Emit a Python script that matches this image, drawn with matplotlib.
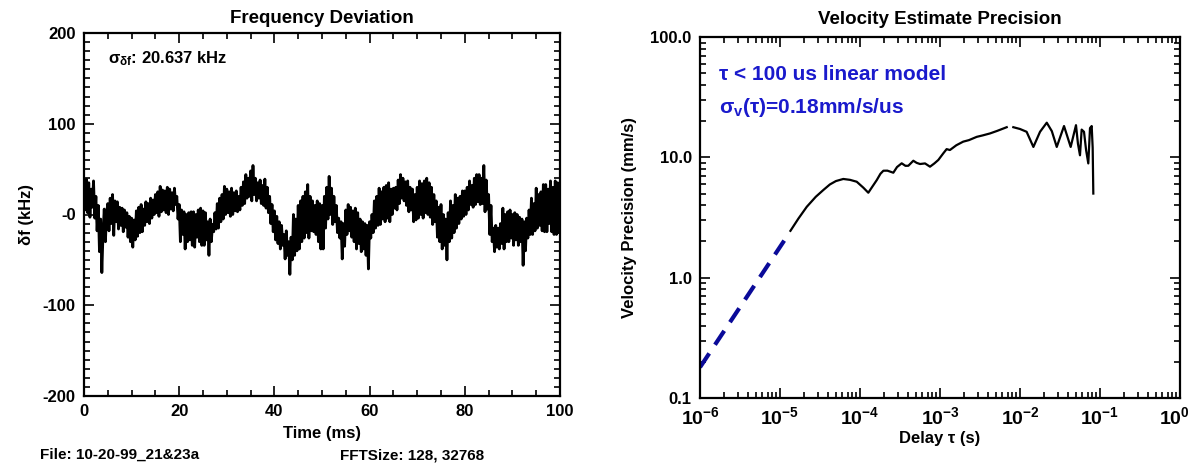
import numpy as np
import matplotlib
matplotlib.use("Agg")
import matplotlib.pyplot as plt
from matplotlib.ticker import MultipleLocator, LogLocator, NullFormatter
from matplotlib.transforms import ScaledTranslation

plt.rcParams['font.family'] = ['Liberation Sans', 'DejaVu Sans']
plt.rcParams['font.weight'] = 'bold'
plt.rcParams['mathtext.fontset'] = 'custom'
plt.rcParams['mathtext.rm'] = 'Liberation Sans:bold'
plt.rcParams['mathtext.bf'] = 'Liberation Sans:bold'
plt.rcParams['mathtext.it'] = 'Liberation Sans:bold'

# frequency deviation trace (kHz), sampled every 0.25 ms over 0-100 ms
df_khz = [
    30, 5, 39, 2, 35, -3, 28, 8, 37, -4, 20, -18, 10, -41, -5, -64, -20, 6, -30, 2,
    12, -18, 18, -10, 22, -23, 15, -8, 14, -16, 8, -12, 7, -19, 5, -14, 2, -25, -2, -30,
    -4, -36, -6, -28, 4, -24, 8, -20, 11, -19, 6, -12, 14, -8, 12, -10, 18, -4, 16, 0,
    22, 2, 25, -2, 31, 3, 27, 5, 26, 2, 30, 0, 28, 6, 24, 4, 29, 11, 20, -5,
    11, -30, 5, -22, 3, -38, 0, -30, 2, -28, 3, -34, 3, -36, 0, -25, 5, -30, 7, -34,
    4, -34, 2, -28, -8, -45, -5, -30, -11, -19, 2, -16, 12, -15, 18, -8, 22, -5, 31, 0,
    28, 2, 25, -2, 29, 0, 24, 4, 26, 3, 20, 5, 30, 10, 36, 12, 44, 18, 40, 20,
    48, 15, 54, 22, 40, 15, 35, 18, 38, 12, 32, 10, 39, 7, 30, 2, 20, -10, 11, -19,
    4, -28, -2, -32, -8, -38, -12, -34, -22, -49, -18, -45, -30, -66, -25, -50, 0, -45, -5, -40,
    10, -38, 15, -30, 20, -26, 25, -20, 33, -26, 20, -18, 15, -19, 10, -22, 15, -30, 12, -38,
    10, -38, 20, -15, 30, -5, 42, 0, 29, -11, 20, -8, 10, -20, -4, -26, -8, -49, -10, -35,
    5, -22, 11, -18, 8, -25, 4, -30, 7, -38, 2, -32, -5, -41, -8, -38, -10, -45, -12, -60,
    -8, -26, 0, -20, 15, -15, 20, -12, 29, -11, 25, -5, 30, -8, 32, -4, 35, -8, 28, 0,
    29, 7, 30, 5, 38, 12, 44, 18, 40, 15, 36, 10, 37, 3, 30, 5, 28, -8, 22, -6,
    30, -4, 37, 0, 34, -4, 37, 2, 40, 0, 35, -3, 30, -11, 22, -8, 15, -25, 8, -30,
    11, -38, 0, -34, -5, -50, 2, -30, 15, -26, 10, -20, 22, -15, 18, -10, 20, -5, 26, -2,
    26, 0, 30, 5, 37, 11, 32, 8, 40, 11, 44, 14, 44, 11, 40, 12, 54, 3, 38, 6,
    22, -22, 10, -30, -15, -41, -12, -36, -15, -38, -10, -32, 7, -38, 0, -30, 3, -30, 5, -26,
    0, -34, 2, -28, 0, -34, -3, -30, -5, -56, -8, -40, -4, -26, 5, -22, 18, -22, 12, -18,
    29, -15, 22, -12, 25, -18, 33, -19, 33, -19, 28, -10, 37, -19, 30, -22, 37, -22, 35, -20,
    30,
]
t_ms = np.linspace(0, 100, len(df_khz))

# velocity precision vs delay (NaN = gap in the measured curve)
tau_s = [1.35e-5, 1.7e-5, 2.16e-5, 2.8e-5, 3.48e-5, 4.2e-5, 5.0e-5, 6.18e-5, 7.5e-5,
         9.1e-5, 1.1e-4, 1.27e-4, 1.4e-4, 1.62e-4, 1.8e-4, 1.96e-4, 2.2e-4, 2.61e-4,
         2.9e-4, 3.32e-4, 3.7e-4, 4.02e-4, 4.64e-4, 5.1e-4, 5.62e-4, 6.5e-4, 7.5e-4,
         8.5e-4, 9.53e-4, 1.1e-3, 1.21e-3, 1.33e-3, 1.6e-3, 1.95e-3, 2.3e-3, 2.88e-3,
         3.4e-3, 4.22e-3, 5.2e-3, 6.82e-3, np.nan,
         8.25e-3, 1.0e-2, 1.21e-2, 1.47e-2, 1.78e-2, 2.16e-2, 2.5e-2, 2.88e-2, 3.55e-2,
         4.3e-2, 5.01e-2, 5.3e-2, 5.62e-2, 5.9e-2, 6.31e-2, 6.7e-2, 7.14e-2, 7.5e-2,
         7.87e-2, 8.1e-2, 8.25e-2]
vel_mms = [2.45, 3.1, 3.88, 4.7, 5.35, 5.95, 6.35, 6.61, 6.5,
           6.27, 5.6, 5.08, 5.6, 6.47, 7.3, 7.74, 7.75, 7.45,
           8.3, 8.92, 8.5, 8.51, 9.37, 9.0, 8.8, 8.9, 8.36,
           8.9, 9.51, 10.8, 11.7, 11.5, 12.6, 13.5, 13.9, 14.8,
           15.2, 15.8, 16.6, 17.8, np.nan,
           17.8, 17.2, 16.3, 12.2, 16.3, 19.4, 16.5, 12.2, 18.2,
           12.2, 18.5, 13.0, 10.4, 17.0, 16.3, 11.5, 8.9, 17.5,
           18.2, 12.0, 5.0]

# linear model line (tau < 100 us)
model_tau = [1e-6, 1.3e-5]
model_vel = [0.18, 2.34]

fig = plt.figure(figsize=(11.92, 4.75), dpi=100)
ax1 = fig.add_axes([84 / 1192, 1 - 396 / 475, 476 / 1192, 363 / 475])
ax2 = fig.add_axes([700 / 1192, 1 - 398 / 475, 480 / 1192, 361 / 475])

for ax in (ax1, ax2):
    for s in ax.spines.values():
        s.set_linewidth(1.6)
    ax.tick_params(which='both', direction='in', top=True, right=True,
                   width=1.2, labelsize=12, pad=6)
    ax.tick_params(which='major', length=7)
    ax.tick_params(which='minor', length=4)

# left: frequency deviation
ax1.plot(t_ms, df_khz, color='black', lw=2)
ax1.set_xlim(0, 100)
ax1.set_ylim(-200, 200)
ax1.xaxis.set_major_locator(MultipleLocator(20))
ax1.xaxis.set_minor_locator(MultipleLocator(5))
ax1.set_yticks([-200, -100, 0, 100, 200])
ax1.set_yticklabels(['-200', '-100', '-0', '100', '200'])
ax1.yaxis.set_minor_locator(MultipleLocator(10))
ax1.set_title('Frequency Deviation', fontsize=13.5, fontweight='bold', pad=7)
ax1.set_xlabel('Time (ms)', fontsize=12, fontweight='bold', labelpad=5)
ax1.set_ylabel('δf (kHz)', fontsize=12, fontweight='bold', labelpad=6)
ax1.text(0.05, 0.93, 'σ$_{δf}$: 20.637 kHz', transform=ax1.transAxes,
         fontsize=12, fontweight='bold', va='center', ha='left')

# right: velocity precision
ax2.plot(tau_s, vel_mms, color='black', lw=1.6)
ax2.plot(model_tau, model_vel, color='#0a0a99', lw=3, ls=(0, (4, 2.5)))
ax2.set_xscale('log')
ax2.set_yscale('log')
ax2.set_xlim(1e-6, 1)
ax2.set_ylim(0.1, 100)
ax2.set_xticks([1e-6, 1e-5, 1e-4, 1e-3, 1e-2, 1e-1, 1])
ax2.set_xticklabels([r'$\mathbf{10^{-6}}$', r'$\mathbf{10^{-5}}$', r'$\mathbf{10^{-4}}$',
                     r'$\mathbf{10^{-3}}$', r'$\mathbf{10^{-2}}$', r'$\mathbf{10^{-1}}$',
                     r'$\mathbf{10^{0}}$'], fontsize=14)
last = ax2.get_xticklabels()[-1]
last.set_transform(last.get_transform() + ScaledTranslation(-4 / 72, 0, fig.dpi_scale_trans))
ax2.set_yticks([0.1, 1, 10, 100])
ax2.set_yticklabels(['0.1', '1.0', '10.0', '100.0'])
ax2.xaxis.set_minor_locator(LogLocator(base=10, subs=np.arange(2, 10), numticks=20))
ax2.yaxis.set_minor_locator(LogLocator(base=10, subs=np.arange(2, 10), numticks=20))
ax2.xaxis.set_minor_formatter(NullFormatter())
ax2.yaxis.set_minor_formatter(NullFormatter())
ax2.set_title('Velocity Estimate Precision', fontsize=13.5, fontweight='bold', pad=9)
ax2.set_xlabel('Delay τ (s)', fontsize=12, fontweight='bold', labelpad=2)
ax2.set_ylabel('Velocity Precision (mm/s)', fontsize=12, fontweight='bold', labelpad=10)
ax2.text(0.04, 0.895, 'τ < 100 us linear model', transform=ax2.transAxes,
         fontsize=15, fontweight='bold', color='#1a1acc', va='center')
ax2.text(0.04, 0.806, 'σ$_{v}$(τ)=0.18mm/s/us', transform=ax2.transAxes,
         fontsize=15, fontweight='bold', color='#1a1acc', va='center')

fig.text(40 / 1192, 1 - 455 / 475, 'File: 10-20-99_21&23a', fontsize=11,
         fontweight='bold', va='center')
fig.text(340 / 1192, 1 - 455 / 475, 'FFTSize: 128, 32768', fontsize=11,
         fontweight='bold', va='center')

fig.savefig('out.png', dpi=100)
